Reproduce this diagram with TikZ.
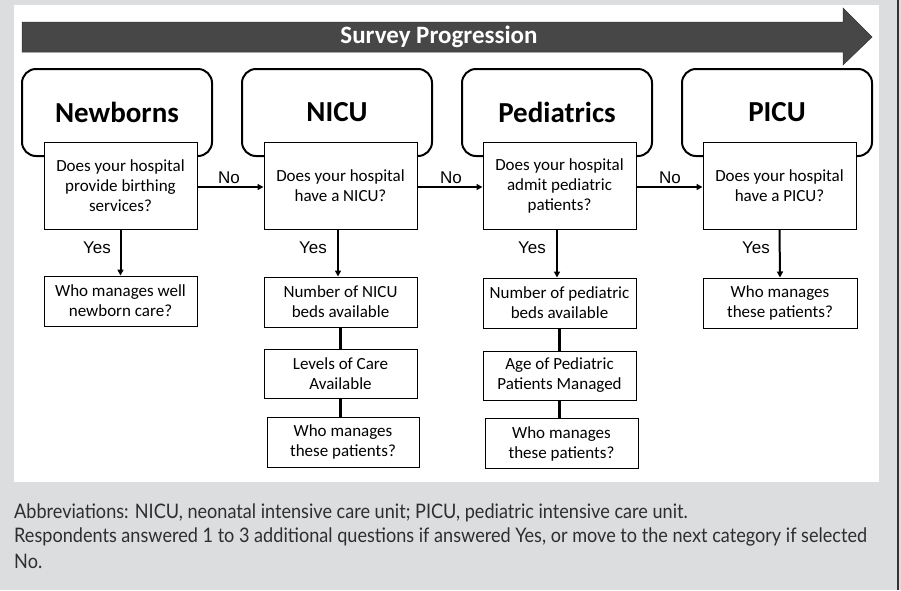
\documentclass[tikz,border=0pt]{standalone}
\usepackage{fontspec}
\setmainfont{Carlito}
\newfontfamily\lblfont{Liberation Sans}
\newfontfamily\footfont[FakeStretch=0.905]{Lato}
\usetikzlibrary{arrows.meta}
\definecolor{bggray}{HTML}{DCDDDF}
\definecolor{bannergray}{HTML}{474747}
\definecolor{foottext}{HTML}{2E2E2E}
\tikzset{
  header/.style={draw=black, line width=2pt, rounded corners=14pt, minimum width=190pt, minimum height=87pt, inner sep=0pt, font=\fontsize{29}{32}\selectfont\bfseries},
  qbox/.style={draw=black, fill=white, line width=1pt, minimum width=153pt, minimum height=87pt, inner sep=0pt, align=center, font=\fontsize{17}{20}\selectfont},
  abox/.style={draw=black, fill=white, line width=1pt, minimum width=153pt, minimum height=50pt, inner sep=0pt, align=center, font=\fontsize{17}{20}\selectfont},
  flowarrow/.style={line width=2pt, -{Triangle[length=6pt,width=6pt]}},
  joinline/.style={line width=3pt},
  lbl/.style={font=\lblfont\fontsize{17}{19}\selectfont, inner sep=0pt},
  foot/.style={font=\footfont\fontsize{20}{22}\selectfont, text=foottext, anchor=west, inner sep=0pt}
}
\begin{document}
\begin{tikzpicture}[x=1pt,y=-1pt]
\useasboundingbox (0,0) rectangle (901,590);
\fill[bggray] (0,0) rectangle (901,590);
\fill[white] (14,5) rectangle (879,482);
\draw[gray!40!black, line width=1.5pt] (898,0) -- (898,590);
% banner arrow
\fill[bannergray, draw=black!80, line width=0.5pt] (22,22) -- (843,22) -- (843,8) -- (872,37) -- (843,65) -- (843,52) -- (22,52) -- cycle;
\node[text=white, font=\fontsize{25}{28}\selectfont\bfseries, inner sep=0pt] (banner) at (439,37) {Survey Progression};
% headers
\node[header] (hN) at (117,112.5) {Newborns};
\node[header] (hC) at (337,112.5) {NICU};
\node[header] (hP) at (557,112.5) {Pediatrics};
\node[header] (hI) at (777,112.5) {PICU};
% questions
\node[qbox] (qN) at (120.5,185.5) {Does your hospital\\provide birthing\\services?};
\node[qbox] (qC) at (340.5,185.5) {Does your hospital\\have a NICU?};
\node[qbox] (qP) at (559.5,185.5) {Does your hospital\\admit pediatric\\patients?};
\node[qbox] (qI) at (779.5,185.5) {Does your hospital\\have a PICU?};
% answers
\node[abox] (aN) at (120.5,301) {Who manages well\\newborn care?};
\node[abox] (aC1) at (340.5,302) {Number of NICU\\beds available};
\node[abox, minimum height=49pt] (aC2) at (340.5,373.5) {Levels of Care\\Available};
\node[abox, minimum width=152pt] (aC3) at (343,442) {Who manages\\these patients?};
\node[abox] (aP1) at (559.5,303) {Number of pediatric\\beds available};
\node[abox, minimum height=49pt] (aP2) at (559.5,375.5) {Age of Pediatric\\Patients Managed};
\node[abox] (aP3) at (561.5,443.5) {Who manages\\these patients?};
\node[abox, minimum width=154pt] (aI) at (780,303) {Who manages\\these patients?};
% No arrows
\draw[flowarrow] (qN.east |- 0,187) -- (qC.west |- 0,187);
\draw[flowarrow] (qC.east |- 0,187) -- (qP.west |- 0,187);
\draw[flowarrow] (qP.east |- 0,187) -- (qI.west |- 0,187);
\node[lbl] (no1) at (229,178) {No};
\node[lbl] (no2) at (451,178) {No};
\node[lbl] (no3) at (670,178) {No};
% Yes arrows
\draw[flowarrow] (qN.south) -- (aN.north);
\draw[flowarrow] (qC.south -| 338,0) -- (aC1.north -| 338,0);
\draw[flowarrow] (qP.south -| 557,0) -- (aP1.north -| 557,0);
\draw[flowarrow] (qI.south) -- (aI.north);
\node[lbl] (yes1) at (97,248) {Yes};
\node[lbl] (yes2) at (313,248) {Yes};
\node[lbl] (yes3) at (532,248) {Yes};
\node[lbl] (yes4) at (756,248) {Yes};
% joins
\draw[joinline] (aC1.south -| 340,0) -- (aC2.north -| 340,0);
\draw[joinline] (aC2.south -| 340,0) -- (aC3.north -| 340,0);
\draw[joinline] (aP1.south -| 559,0) -- (aP2.north -| 559,0);
\draw[joinline] (aP2.south -| 559,0) -- (aP3.north -| 559,0);
% footer
\node[foot] (f1) at (14,513) {Abbreviations: NICU, neonatal intensive care unit; PICU, pediatric intensive care unit.};
\node[foot] (f2) at (14,537) {Respondents answered 1 to 3 additional questions if answered Yes, or move to the next category if selected};
\node[foot] (f3) at (14,561) {No.};
\end{tikzpicture}
\end{document}
